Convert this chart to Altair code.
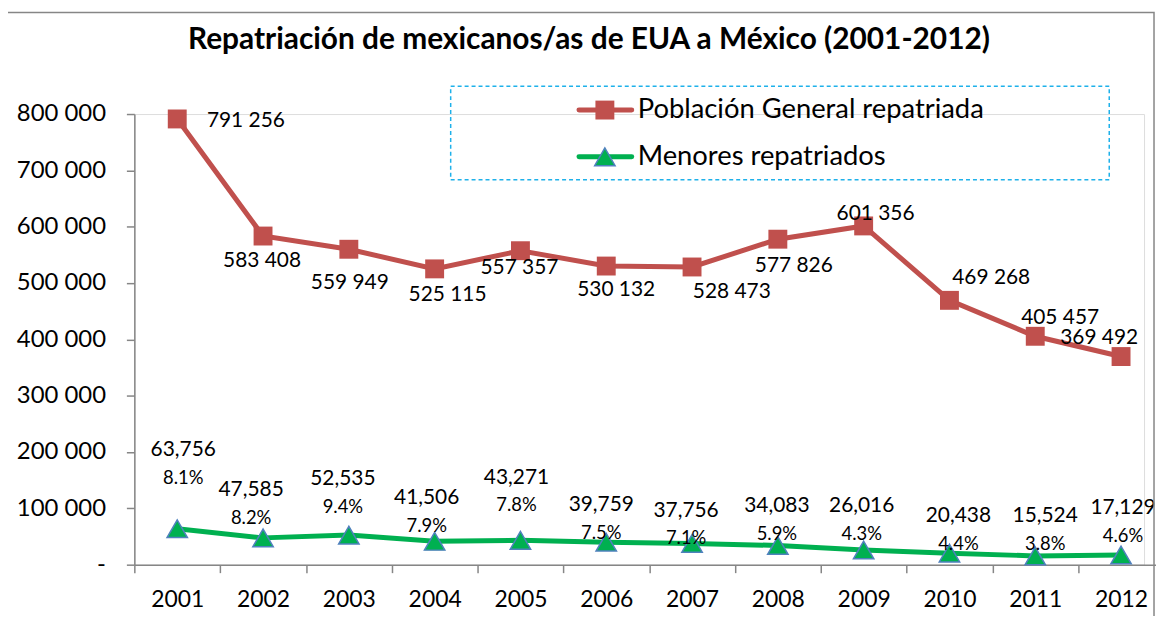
import altair as alt
import pandas as pd

# ---------------- data ----------------
years = [str(y) for y in range(2001, 2013)]
general = [791256, 583408, 559949, 525115, 557357, 530132,
           528473, 577826, 601356, 469268, 405457, 369492]
menores = [63756, 47585, 52535, 41506, 43271, 39759,
           37756, 34083, 26016, 20438, 15524, 17129]
pct_menores = [8.1, 8.2, 9.4, 7.9, 7.8, 7.5, 7.1, 5.9, 4.3, 4.4, 3.8, 4.6]
series = ["Población General repatriada", "Menores repatriados"]
colors = ["#C0504D", "#00B050"]
y_ticks = [0, 100000, 200000, 300000, 400000, 500000, 600000, 700000, 800000]
title = "Repatriación de mexicanos/as de EUA a México (2001-2012)"

# manual label placement (pixel offsets, like the hand-placed Excel labels)
gen_off = [(69, 2), (-1, 25), (1, 34), (13, 26), (-1, 17), (10, 24),
           (40, 25), (16, 27), (12, -12), (42, -22), (25, -18), (-22, -19)]
men_off = [(6, -79), (-12, -48), (-6, -56), (-8, -43), (-4, -63), (-5, -37),
           (-6, -33), (-1, -40), (-2, -44), (9, -37), (10, -40), (2, -47)]

FONT = "Lato"
AXIS_GRAY = "#868686"

df_gen = pd.DataFrame({"year": years, "value": general,
                       "label": [f"{v:,}".replace(",", " ") for v in general]})
df_men = pd.DataFrame({"year": years, "value": menores,
                       "label": [f"{v:,}" for v in menores],
                       "pct": [f"{p:.1f}%" for p in pct_menores]})

x_enc = alt.X("year:O",
              scale=alt.Scale(type="band", domain=years, range=[0, 1035],
                              paddingInner=0, paddingOuter=0),
              axis=alt.Axis(title=None, labelAngle=0, tickBand="extent",
                            domainColor=AXIS_GRAY, tickColor=AXIS_GRAY,
                            tickSize=8, labelFont=FONT, labelFontSize=23,
                            labelColor="black", labelPadding=16,
                            domainWidth=1.5, tickWidth=1.5))
y_enc = alt.Y("value:Q",
              scale=alt.Scale(domain=[0, 800000], nice=False),
              axis=alt.Axis(title=None, values=y_ticks, grid=False,
                            labelExpr="datum.value == 0 ? '-' : replace(format(datum.value, ','), ',', ' ')",
                            domainColor=AXIS_GRAY, tickColor=AXIS_GRAY,
                            tickSize=8, labelFont=FONT, labelFontSize=24,
                            labelColor="black", labelPadding=21,
                            domainWidth=1.5, tickWidth=1.5))

layers = []

# lines
layers.append(alt.Chart(df_gen).mark_line(color=colors[0], strokeWidth=5)
              .encode(x=x_enc, y=y_enc))
layers.append(alt.Chart(df_men).mark_line(color=colors[1], strokeWidth=5)
              .encode(x=x_enc, y=y_enc))
# markers
layers.append(alt.Chart(df_gen).mark_point(shape="square", filled=True, size=361,
                                           color=colors[0], opacity=1)
              .encode(x=x_enc, y=y_enc))
layers.append(alt.Chart(df_men).mark_point(shape="triangle-up", filled=True, size=420,
                                           fill=colors[1], stroke="#4F81BD",
                                           strokeWidth=1.5, opacity=1)
              .encode(x=x_enc, y=y_enc))

# data labels
for i in range(len(years)):
    dx, dy = gen_off[i]
    layers.append(alt.Chart(df_gen.iloc[[i]])
                  .mark_text(dx=dx, dy=dy, font=FONT, fontSize=21, color="black",
                             align="center", baseline="middle")
                  .encode(x=x_enc, y=y_enc, text="label:N"))
    mdx, mdy = men_off[i]
    layers.append(alt.Chart(df_men.iloc[[i]])
                  .mark_text(dx=mdx, dy=mdy, font=FONT, fontSize=21, color="black",
                             align="center", baseline="middle")
                  .encode(x=x_enc, y=y_enc, text="label:N"))
    layers.append(alt.Chart(df_men.iloc[[i]])
                  .mark_text(dx=mdx, dy=mdy + 28, font=FONT, fontSize=18.5, color="black",
                             align="center", baseline="middle")
                  .encode(x=x_enc, y=y_enc, text="pct:N"))

one = pd.DataFrame({"a": [0]})

# outer chart border
layers.append(alt.Chart(one).mark_rect(fillOpacity=0, stroke=AXIS_GRAY, strokeWidth=1.5)
              .encode(x=alt.value(-128), x2=alt.value(1025),
                      y=alt.value(-102), y2=alt.value(525)))

# title
layers.append(alt.Chart(one).mark_text(font=FONT, fontSize=30, fontWeight="bold",
                                       color="black", align="center", baseline="middle")
              .encode(x=alt.value(457), y=alt.value(-74), text=alt.value(title)))

# legend box
layers.append(alt.Chart(one).mark_rect(fillOpacity=0, stroke="#1EB1EA", strokeWidth=1.5,
                                       strokeDash=[4, 3])
              .encode(x=alt.value(318), x2=alt.value(980),
                      y=alt.value(-28), y2=alt.value(66)))
for i, name in enumerate(series):
    yy = -4 + 47 * i
    layers.append(alt.Chart(one).mark_rule(color=colors[i], strokeWidth=5, strokeCap="round")
                  .encode(x=alt.value(447), x2=alt.value(500), y=alt.value(yy)))
    if i == 0:
        mk = alt.Chart(one).mark_point(shape="square", filled=True, size=361,
                                       color=colors[0], opacity=1)
    else:
        mk = alt.Chart(one).mark_point(shape="triangle-up", filled=True, size=420,
                                       fill=colors[1], stroke="#4F81BD", strokeWidth=1.5,
                                       opacity=1)
    layers.append(mk.encode(x=alt.value(473), y=alt.value(yy)))
    layers.append(alt.Chart(one).mark_text(font=FONT, fontSize=27.5, color="black",
                                           align="left", baseline="middle")
                  .encode(x=alt.value(506), y=alt.value(yy), text=alt.value(name)))

chart = (alt.layer(*layers)
         .properties(width=1015, height=453,
                     autosize=alt.AutoSizeParams(type="none"),
                     padding={"left": 127, "top": 105, "right": 12, "bottom": 50})
         .configure_view(stroke=None)
         .configure(background="white"))

chart.save("out.html", embed_options={"renderer": "svg", "actions": False})
